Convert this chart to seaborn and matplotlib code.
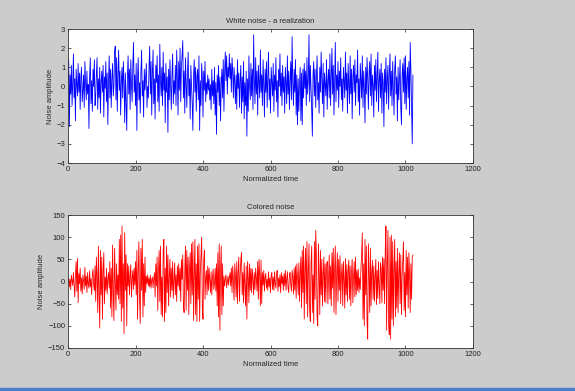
import numpy as np
import pandas as pd
import matplotlib
matplotlib.use("Agg")
import matplotlib.pyplot as plt
import seaborn as sns

# ------------------------------------------------------------------
# dane (co druga próbka, czas 0..1022)
# ------------------------------------------------------------------
white_noise = [
    0.3, 1.4, -2.1, 0.6, -0.4, 1.1, -1.0, 0.2, 1.7, -0.6, 0.4, -1.8, 0.9, 0.1, -0.5, 1.2,
    -0.3, 0.7, -1.2, 0.5, 1.0, -0.8, -0.2, 0.6, -1.1, 1.3, 0.2, -0.7, 0.8, -0.4, 0.1, -2.2,
    0.5, 1.5, -0.9, 0.3, -1.3, 0.9, 0.0, 1.4, -1.0, -0.5, 0.6, 1.5, -1.2, 0.4, -0.6, 1.0,
    -1.4, 0.2, 0.8, -0.3, 1.1, -1.6, 0.5, -0.1, 1.3, -0.8, 0.7, -2.0, 0.3, 1.6, -0.6, 0.9,
    -1.1, 0.4, 1.2, -0.5, 0.0, 1.8, 2.1, -0.7, 1.5, -1.3, 0.6, 1.9, -0.2, 0.8, -1.5, 0.3,
    1.0, -0.6, 1.3, 0.2, -1.9, 0.7, -0.9, -2.3, 0.5, 1.6, -0.4, 0.9, -1.2, 1.4, 0.1, -0.8,
    1.1, 2.3, -0.3, 0.6, -1.0, 1.2, -2.3, 0.4, 1.5, -0.7, 0.2, -1.4, 0.8, 1.9, -0.5, 0.3,
    -1.6, 0.9, -0.2, 0.5, 1.2, -1.1, 0.0, -0.6, 1.0, 2.1, -0.4, 1.3, -1.5, 0.7, 1.9, -0.9,
    0.4, -1.7, 1.1, 0.2, 1.6, -0.8, 0.6, -1.3, 2.2, 0.3, -0.5, 1.0, -1.0, 1.8, -0.2, 0.7,
    -1.9, 1.2, -0.3, 0.5, -2.4, 0.9, -0.7, 1.4, 0.1, -1.2, 0.6, 1.7, -0.9, 0.3, -0.4, 1.1,
    -1.0, 1.9, 0.5, -1.5, 1.3, -0.2, 2.0, -0.8, 1.0, 1.6, 2.4, -0.6, 0.8, -1.4, 1.5, 0.2,
    -1.1, 0.7, 1.8, -0.5, 0.4, -1.7, 1.1, 0.0, -0.9, -2.3, 0.6, 1.4, -0.3, 1.0, -1.3, 0.5,
    0.9, -0.7, 1.6, -2.3, 0.3, -1.0, 1.2, 0.5, -1.6, 0.8, -0.2, 1.3, -0.8, 0.2, -0.4, 0.6,
    -0.2, 0.4, -0.7, 0.1, -1.2, 0.9, -0.5, 0.3, -0.9, 1.0, -1.5, 0.2, -2.5, 0.6, -0.3, 1.1,
    -1.0, 0.5, -1.8, 0.2, 0.9, -0.6, 1.4, -1.3, 0.7, 1.8, 0.3, 1.6, -0.4, 1.0, 0.5, 1.7,
    0.4, 1.2, -0.3, 1.5, 0.8, -0.6, 1.0, 0.2, -0.9, 0.6, -1.2, 1.4, -0.1, 0.7, -1.1, 0.3,
    1.1, -1.4, 0.5, -0.8, 1.3, -1.7, 0.2, -1.0, 0.8, -2.6, 0.4, -1.3, 1.6, 0.0, -0.7, 1.2,
    -0.5, 0.9, -1.2, 2.7, 0.3, -0.9, 1.5, -0.4, 0.8, -1.5, 1.1, 0.2, -0.6, 1.9, -0.3, 0.6,
    -1.0, 1.4, 0.1, -1.6, 0.9, -0.3, 1.3, -1.1, 0.5, 1.8, -0.7, 0.4, -1.4, 1.0, 0.2, -0.5,
    1.2, -1.3, 0.6, -0.2, 1.5, -0.8, 0.3, -1.6, 0.9, 0.0, 1.7, -0.5, 0.7, -1.0, 1.1, -0.3,
    0.5, -1.4, 1.0, 0.2, -0.9, 1.6, -0.4, 0.8, -1.2, 0.3, 1.3, -0.7, 2.6, 0.1, -1.0, 0.9,
    -0.3, 1.4, -1.5, 0.6, -2.0, 0.4, -1.3, 0.2, 1.0, -1.8, 0.7, -2.0, 0.9, -0.6, 1.2, -0.1,
    0.8, -1.0, 1.5, -0.4, 0.3, 2.7, -0.8, 1.1, 0.0, -1.2, -2.6, 0.6, 1.3, -0.5, 0.9, -1.1,
    0.4, 1.6, -0.7, 0.2, -1.4, 1.0, -0.3, 1.8, 0.5, -0.9, 1.2, -1.6, 0.7, 0.1, -0.5, 1.4,
    -1.2, 0.3, 0.9, -0.6, 1.7, -1.0, 0.5, 2.0, -0.4, 1.1, -1.5, 0.2, 2.3, -0.8, 0.6, -0.2,
    1.3, -1.1, 0.8, 0.0, 1.5, -0.7, 0.4, -1.3, 1.0, 0.3, -0.6, 1.8, -0.2, 0.7, -1.4, 1.2,
    0.1, -0.9, 1.6, -0.4, 0.9, -1.7, 0.5, 1.1, -0.3, 1.4, -1.0, 0.6, 0.2, 1.9, -0.8, 0.4,
    -1.5, 1.2, 0.3, -0.6, 1.6, -1.1, 0.8, 0.0, -1.9, 1.0, -0.4, 1.5, 0.4, -1.2, 0.7, 1.3,
    -0.5, 1.7, -1.0, 0.6, 0.1, -1.6, 1.1, -0.2, 1.4, -0.8, 0.5, 1.8, -1.3, 0.3, 0.9, -0.6,
    1.2, -1.4, 0.7, 0.2, -2.1, 0.9, -0.3, 1.5, -0.9, 0.4, 1.1, -1.2, 0.6, 1.7, -0.5, 0.8,
    -1.0, 1.3, 0.0, -1.5, 0.9, 1.6, -0.4, 0.5, -1.8, 1.0, -0.7, 0.3, 1.4, -1.1, -2.0, 0.6,
    1.2, -0.3, 1.5, -0.9, 1.6, -1.2, 0.4, 1.0, -0.6, 1.3, -1.5, 2.3, 0.8, -1.2, -3.0, 0.6,
]

colored_noise = [
    0, 8, -12, 5, -18, 14, 3, -9, 20, -6, -35, 12, 45, -22, 52, -48,
    18, -5, 30, -22, 8, -28, 15, 2, -18, 32, -10, 12, -25, 20, -6, -15,
    24, -12, 6, -30, 15, 28, -8, -20, 35, -45, 55, 10, -70, 80, -25, -105,
    70, -30, 55, -85, 20, 65, -50, 10, -20, 30, -28, 5, 20, -15, 45, -60,
    30, -80, 82, -20, -88, 75, 10, -65, 40, -30, 15, -40, 95, -50, 105, -90,
    125, -60, 40, -118, 110, -20, 60, -100, 40, -10, 35, -30, 12, 38, -35, 5,
    25, -18, 30, -8, 45, -30, 70, -85, 20, 90, -40, -95, 75, -20, 95, -80,
    40, -55, 55, -25, 12, -5, 15, -10, 8, -12, 14, -15, 4, 10, -14, 5,
    20, -35, 40, -10, 55, -65, 25, 70, -45, 80, -75, 10, -80, 70, 95, -90,
    30, -70, 80, -25, 60, -55, 10, 50, -35, 30, -20, 45, -38, 5, 42, -30,
    15, -45, 35, -10, 40, -20, 30, -45, 50, 5, 60, -55, -70, 25, 80, -65,
    70, -20, 55, -75, 30, 65, -50, 85, -30, 90, -88, 15, 95, -75, 40, -90,
    80, -40, 85, -90, 20, 60, 100, -60, -85, 45, 70, -40, 10, 25, -30, 35,
    -20, 30, 5, -25, 22, -30, 10, 28, -18, -5, 30, -22, 40, -55, 65, -80,
    85, -110, 30, 80, -75, 40, -55, 12, -10, 5, 15, -14, -2, 12, -8, 10,
    20, -10, 30, -25, 35, 5, -42, 40, 15, -35, 45, -50, 20, 55, -45, 10,
    50, 65, -30, 20, -48, 42, -10, -55, 35, -85, 45, 10, -48, 40, -20, 30,
    -25, 28, 5, -30, 20, -18, 30, 8, -22, 45, -40, 50, 15, -55, 48, -50,
    20, -8, 25, -22, 10, 18, -15, 5, -20, 22, -12, 8, -25, 15, 20, -18,
    10, -20, 22, -5, -15, 18, 25, -22, 8, -12, 15, -25, 20, -5, 12, -20,
    18, -10, 25, -20, 5, 22, -15, -25, 15, 20, -8, -22, 25, 10, -28, 30,
    -20, 35, -38, 40, 10, -30, 42, -45, 20, 55, -60, 70, -25, 80, -85, 30,
    75, -50, 90, -80, 20, 85, -65, -90, 40, 80, -70, 15, -95, 90, -40, 115,
    60, -80, -100, 85, 20, -75, 70, -30, 50, -55, 15, 55, -45, 40, -48, 30,
    45, -50, 10, 60, -40, 35, -55, 65, -15, 75, -70, 30, 80, -75, 20, 65,
    -45, 50, -20, 58, -50, 15, 40, -55, 45, 5, -60, 52, -30, 38, -45, 25,
    48, -40, 35, -55, 20, 50, -48, 10, 45, -35, 55, -30, 25, -20, 28, -25,
    8, -18, 30, 60, 110, -85, 40, -100, 95, -30, 80, -90, -130, 85, 20, -70,
    75, -55, 20, 48, -40, 35, -45, 10, 50, -52, 25, -38, 45, -10, -50, 42,
    30, -48, 55, -20, 52, -50, 70, 125, -110, 40, 115, -95, -120, 100, -130, 105,
    -85, 90, -100, 30, 95, -80, 45, -60, 75, -70, 20, 65, -50, 60, -75, 10,
    50, 90, -65, 20, -80, 70, -30, 55, -60, 65, 15, -70, 40, -40, 55, 60,
]

time = list(range(0, 1024, 2))

titles = ["White noise - a realization", "Colored noise"]
y_ticks = [[-4, -3, -2, -1, 0, 1, 2, 3], [-150, -100, -50, 0, 50, 100, 150]]
x_ticks = [0, 200, 400, 600, 800, 1000, 1200]

df = pd.DataFrame({"time": time, "white": white_noise, "colored": colored_noise})

# ------------------------------------------------------------------
# wygląd w stylu okna MATLAB-a
# ------------------------------------------------------------------
sns.set_style("ticks")
plt.rcParams["font.family"] = ["Liberation Sans", "DejaVu Sans"]
plt.rcParams["font.size"] = 5.5

fig = plt.figure(figsize=(5.75, 3.91), dpi=100, facecolor="#cccccc")
ax1 = fig.add_axes([0.1183, 0.5831, 0.7043, 0.3427])
ax2 = fig.add_axes([0.1183, 0.1100, 0.7043, 0.3401])

sns.lineplot(data=df, x="time", y="white", ax=ax1, color="#0000ff", linewidth=0.6)
sns.lineplot(data=df, x="time", y="colored", ax=ax2, color="#ff0000", linewidth=0.6)

for ax, title, yt in zip([ax1, ax2], titles, y_ticks):
    ax.set_facecolor("white")
    ax.set_xlim(0, 1200)
    ax.set_ylim(yt[0], yt[-1])
    ax.set_xticks(x_ticks)
    ax.set_yticks(yt)
    ax.set_title(title, fontsize=5.5, pad=4)
    ax.set_xlabel("Normalized time", fontsize=5.5, labelpad=2)
    ax.set_ylabel("Noise amplitude", fontsize=5.5, labelpad=2)
    ax.tick_params(direction="in", length=2.5, width=0.5, labelsize=5.5,
                   top=True, right=True, pad=2, colors="#222222")
    for s in ax.spines.values():
        s.set_visible(True)
        s.set_linewidth(0.6)
        s.set_color("#333333")

# niebieski pasek na dole okna
fig.add_artist(plt.Rectangle((0, 0), 1, 0.008, transform=fig.transFigure,
                             color="#4a7fcc", zorder=5))

plt.savefig("out.png", dpi=100, facecolor=fig.get_facecolor())
plt.close()
print("Zapisano: out.png")
